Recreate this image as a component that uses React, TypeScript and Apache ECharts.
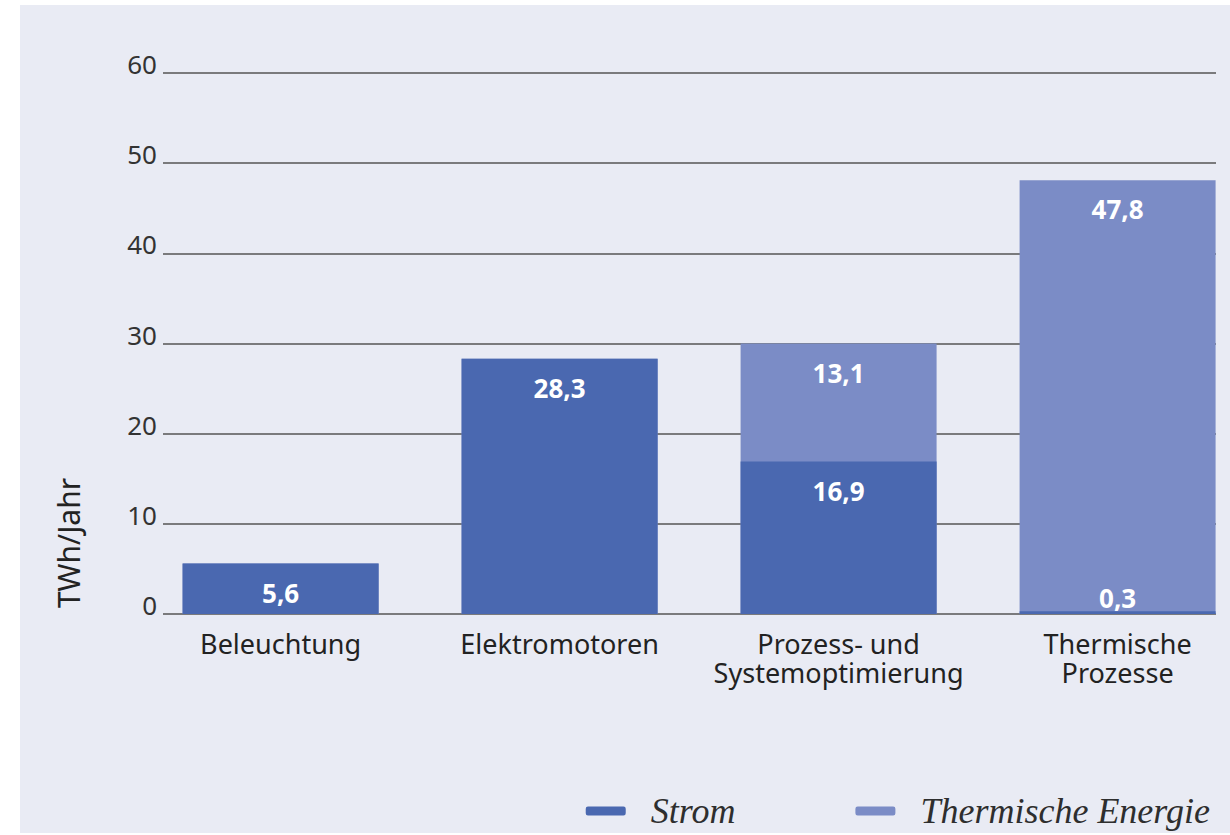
import React, { useEffect, useRef } from "react";
import * as echarts from "echarts";

const categories = [
  "Beleuchtung",
  "Elektromotoren",
  "Prozess- und\nSystemoptimierung",
  "Thermische\nProzesse",
];
const strom = [5.6, 28.3, 16.9, 0.3];
const thermisch = [0, 0, 13.1, 47.8];
const seriesNames = ["Strom", "Thermische Energie"];
const yMin = 0;
const yMax = 60;
const yStep = 10;
const yTitle = "TWh/Jahr";

const STROM_COLOR = "#4a68b0";
const THERM_COLOR = "#7b8cc6";
const FONT = "'Noto Sans', 'Open Sans', sans-serif";

const fmt = (v: number) => v.toFixed(1).replace(".", ",");

export default function App() {
  const ref = useRef<HTMLDivElement>(null);

  useEffect(() => {
    if (!ref.current) return;
    const chart = echarts.init(ref.current, null, { renderer: "svg" });

    const baseLabel = {
      show: true,
      position: "insideTop",
      distance: 16,
      color: "#ffffff",
      fontWeight: "bold",
      fontSize: 26,
      fontFamily: FONT,
    };

    // Strom drawn on top of the (Strom + Thermische Energie) total bar,
    // which visually gives the stacked bar.
    const stromData = strom.map((v, i) => ({
      value: [i, v],
      label: v < 2 ? { position: "top", distance: 0 } : {},
    }));
    const totalData = thermisch.map((v, i) => ({
      value: [i, strom[i] + v],
      label: v === 0 ? { show: false } : {},
    }));

    chart.setOption({
      animation: false,
      backgroundColor: "transparent",
      textStyle: { fontFamily: FONT },
      grid: { left: 163, right: 14, top: 73, bottom: 221, containLabel: false },
      legend: {
        data: seriesNames,
        right: 20,
        top: 787,
        padding: 0,
        itemWidth: 40,
        itemHeight: 9,
        itemGap: 120,
        icon: "roundRect",
        textStyle: {
          fontFamily: "'Liberation Serif', serif",
          fontStyle: "italic",
          fontSize: 36,
          lineHeight: 36,
          color: "#2e2e2e",
          padding: [0, 0, 12, 20],
        },
      },
      xAxis: {
        type: "value",
        min: -0.4215,
        max: 3.3527,
        axisLine: { show: false },
        axisTick: { show: false },
        splitLine: { show: false },
        axisLabel: {
          customValues: categories.map((_, i) => i),
          formatter: (v: number) => categories[Math.round(v)] ?? "",
          fontSize: 27,
          lineHeight: 29,
          color: "#222222",
          margin: 15,
          fontFamily: FONT,
        },
      },
      yAxis: {
        type: "value",
        min: yMin,
        max: yMax,
        interval: yStep,
        axisLine: { show: false },
        axisTick: { show: false },
        splitLine: { lineStyle: { color: "#555555", width: 1.5 } },
        axisLabel: {
          fontSize: 26,
          color: "#333333",
          margin: 6,
          verticalAlign: "bottom",
          lineHeight: 18,
          fontFamily: FONT,
        },
      },
      graphic: [
        {
          type: "text",
          x: 68,
          y: 543,
          rotation: Math.PI / 2,
          style: {
            text: yTitle,
            fontSize: 30,
            fontFamily: FONT,
            fill: "#222222",
            align: "center",
            verticalAlign: "middle",
          },
        },
      ],
      series: [
        {
          name: seriesNames[1],
          type: "bar",
          barWidth: 196,
          barGap: "-100%",
          z: 2,
          itemStyle: { color: THERM_COLOR },
          label: {
            ...baseLabel,
            formatter: (p: any) => fmt(thermisch[p.dataIndex]),
          },
          data: totalData,
        },
        {
          name: seriesNames[0],
          type: "bar",
          barWidth: 196,
          barGap: "-100%",
          z: 3,
          itemStyle: { color: STROM_COLOR },
          label: { ...baseLabel, formatter: (p: any) => fmt(strom[p.dataIndex]) },
          data: stromData,
        },
      ],
    });

    return () => chart.dispose();
  }, []);

  return (
    <div
      style={{
        position: "fixed",
        left: 0,
        top: 0,
        width: 1230,
        height: 835,
        background: "#ffffff",
      }}
    >
      <div
        style={{
          position: "absolute",
          left: 20,
          top: 5,
          width: 1210,
          height: 828,
          background: "#e9ebf4",
        }}
      />
      <div
        ref={ref}
        style={{ position: "absolute", left: 0, top: 0, width: 1230, height: 835 }}
      />
    </div>
  );
}
